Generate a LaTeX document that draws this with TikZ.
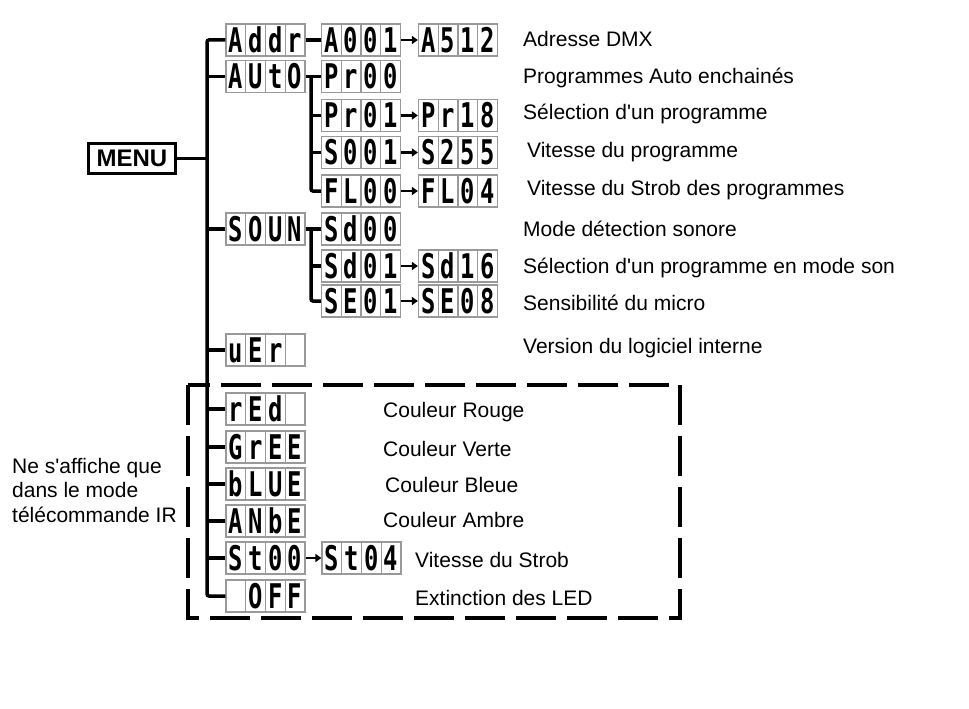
\documentclass[tikz,border=0pt]{standalone}
\usepackage{fontspec}
\setmainfont[Ligatures=TeXOff]{Liberation Sans}
\newfontfamily\lcdfont[FakeStretch=0.7]{DejaVu Sans Mono}
\usetikzlibrary{arrows.meta}

\newcommand\lcdcell[1]{\makebox[19.75pt]{\smash{\raisebox{-12.4pt}{#1}}}}
\newcommand\lcd[4]{\lcdfont\bfseries\fontsize{34}{34}\selectfont\lcdcell{#1}\lcdcell{#2}\lcdcell{#3}\lcdcell{#4}}

\begin{document}
\begin{tikzpicture}[x=1pt,y=-1pt,
  disp/.style={draw=black!40,line width=1.2pt,inner sep=0pt,minimum width=79,minimum height=32,
    path picture={\foreach \k in {1,2,3}
      \draw[black!40,line width=1.2pt] ([xshift=\k*19.75pt]path picture bounding box.south west)
        -- ([xshift=\k*19.75pt]path picture bounding box.north west);}},
  tree/.style={line width=3.5pt,rounded corners=2pt},
  nxt/.style={line width=2.5pt,-{Triangle[length=6pt,width=8pt]}},
  lbl/.style={anchor=mid west,inner sep=0pt,font=\fontsize{21}{24.5}\selectfont}]
\useasboundingbox (0,0) rectangle (969,709);

%IR only part
\draw[line width=3.5pt,dash pattern=on 40pt off 11pt] (188,385) rectangle (680,618);

\node[draw,line width=3pt,inner sep=1pt,minimum width=87,minimum height=30,
  font=\bfseries\fontsize{24}{24}\selectfont] (menu) at (132,158.5) {MENU};

%first level
\node[disp] (addr) at (265.5,40) {\lcd{A}{d}{d}{r}};
\node[disp] (auto) at (265.5,76.5) {\lcd{A}{U}{t}{O}};
\node[disp] (soun) at (265.5,229) {\lcd{S}{O}{U}{N}};
\node[disp] (ver) at (265.5,350) {\lcd{u}{E}{r}{}};
\node[disp] (red) at (265.5,409) {\lcd{r}{E}{d}{}};
\node[disp] (gree) at (265.5,447) {\lcd{G}{r}{E}{E}};
\node[disp] (blue) at (265.5,484) {\lcd{b}{L}{U}{E}};
\node[disp] (anbe) at (265.5,521) {\lcd{A}{N}{b}{E}};
\node[disp] (st00) at (265.5,558) {\lcd{S}{t}{0}{0}};
\node[disp] (off) at (265.5,596) {\lcd{}{O}{F}{F}};

%second level
\node[disp] (a001) at (361,40) {\lcd{A}{0}{0}{1}};
\node[disp] (pr00) at (361,76.5) {\lcd{P}{r}{0}{0}};
\node[disp] (pr01) at (361,115.5) {\lcd{P}{r}{0}{1}};
\node[disp] (s001) at (361,152.5) {\lcd{S}{0}{0}{1}};
\node[disp] (fl00) at (361,191) {\lcd{F}{L}{0}{0}};
\node[disp] (sd00) at (361,229) {\lcd{S}{d}{0}{0}};
\node[disp] (sd01) at (361,266) {\lcd{S}{d}{0}{1}};
\node[disp] (se01) at (361,301) {\lcd{S}{E}{0}{1}};
\node[disp] (st04) at (361.5,558) {\lcd{S}{t}{0}{4}};

%third level
\node[disp] (a512) at (458,40) {\lcd{A}{5}{1}{2}};
\node[disp] (pr18) at (458,115.5) {\lcd{P}{r}{1}{8}};
\node[disp] (s255) at (458,152.5) {\lcd{S}{2}{5}{5}};
\node[disp] (fl04) at (458,191) {\lcd{F}{L}{0}{4}};
\node[disp] (sd16) at (458,266) {\lcd{S}{d}{1}{6}};
\node[disp] (se08) at (458,301) {\lcd{S}{E}{0}{8}};

%tree
\coordinate (bar) at (207,0);
\coordinate (ja) at (311,0);
\draw[tree] (menu.east) -- (menu.east -| bar);
\draw[tree] (addr.west) -| (bar |- off.west) -- (off.west);
\foreach \n in {auto,soun,ver,red,gree,blue,anbe,st00}
  \draw[tree] (\n.west -| bar) -- (\n.west);
\draw[tree] (addr) -- (a001);
\draw[tree] (auto.east) -- (pr00.west);
\draw[tree] (ja |- auto.east) |- (fl00.west);
\draw[tree] (soun.east) -- (sd00.west);
\draw[tree] (ja |- soun.east) |- (se01.west);
\foreach \n in {pr01,s001,sd01}
  \draw[tree] (ja |- \n.west) -- (\n.west);

\draw[nxt] (a001) -- (a512);
\draw[nxt] (pr01) -- (pr18);
\draw[nxt] (s001) -- (s255);
\draw[nxt] (fl00) -- (fl04);
\draw[nxt] (sd01) -- (sd16);
\draw[nxt] (se01) -- (se08);
\draw[nxt] (st00) -- (st04);

%texts
\node[lbl] (t1) at (523,44) {Adresse DMX};
\node[lbl] (t2) at (523,80.5) {Programmes Auto enchainés};
\node[lbl] (t3) at (523,117) {Sélection d'un programme};
\node[lbl] (t4) at (527,155) {Vitesse du programme};
\node[lbl] (t5) at (527,193) {Vitesse du Strob des programmes};
\node[lbl] (t6) at (523,234) {Mode détection sonore};
\node[lbl] (t7) at (523,271) {Sélection d'un programme en mode son};
\node[lbl] (t8) at (523,308) {Sensibilité du micro};
\node[lbl] (t9) at (523,351) {Version du logiciel interne};
\node[lbl] (c1) at (383,415) {Couleur Rouge};
\node[lbl] (c2) at (383,454) {Couleur Verte};
\node[lbl] (c3) at (385,490) {Couleur Bleue};
\node[lbl] (c4) at (383,525) {Couleur Ambre};
\node[lbl] (c5) at (415,565) {Vitesse du Strob};
\node[lbl] (c6) at (415,603) {Extinction des LED};
\node[anchor=north west,align=left,inner sep=0pt,font=\fontsize{21}{24.5}\selectfont]
  (note) at (12,458) {Ne s'affiche que\\dans le mode\\télécommande IR};
\end{tikzpicture}
\end{document}
